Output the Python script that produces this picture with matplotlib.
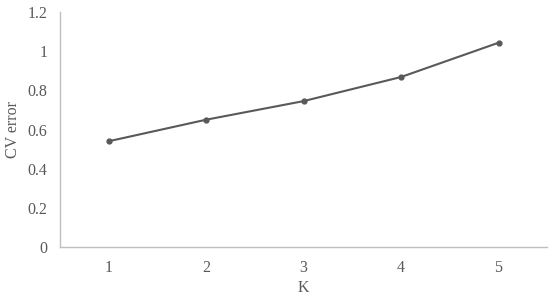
import matplotlib.pyplot as plt

# data
k_values = [1, 2, 3, 4, 5]
cv_error = [0.54, 0.65, 0.745, 0.868, 1.043]
y_ticks = [0, 0.2, 0.4, 0.6, 0.8, 1, 1.2]
y_tick_labels = ['0', '0.2', '0.4', '0.6', '0.8', '1', '1.2']

plt.rcParams['font.family'] = ['Liberation Serif', 'DejaVu Serif']

fig = plt.figure(figsize=(5.5, 2.96), dpi=100)
ax = fig.add_axes([0.109, 0.1655, 0.886, 0.794])

ax.plot(k_values, cv_error, color='#595959', lw=1.5, marker='o', ms=3.5,
        solid_capstyle='round')

ax.set_xlim(0.5, 5.5)
ax.set_ylim(0, 1.2)
ax.set_xticks(k_values)
ax.set_yticks(y_ticks)
ax.set_yticklabels(y_tick_labels)

for s in ['top', 'right']:
    ax.spines[s].set_visible(False)
for s in ['left', 'bottom']:
    ax.spines[s].set_color('#BFBFBF')
    ax.spines[s].set_linewidth(1.0)

ax.tick_params(length=0, labelsize=11.5, colors='#595959')
ax.tick_params(axis='x', pad=9)
ax.tick_params(axis='y', pad=9)
ax.set_xlabel('K', fontsize=11.5, color='#595959', labelpad=3)
ax.set_ylabel('CV error', fontsize=11.5, color='#595959', labelpad=5)

plt.savefig('out.png', dpi=100)
